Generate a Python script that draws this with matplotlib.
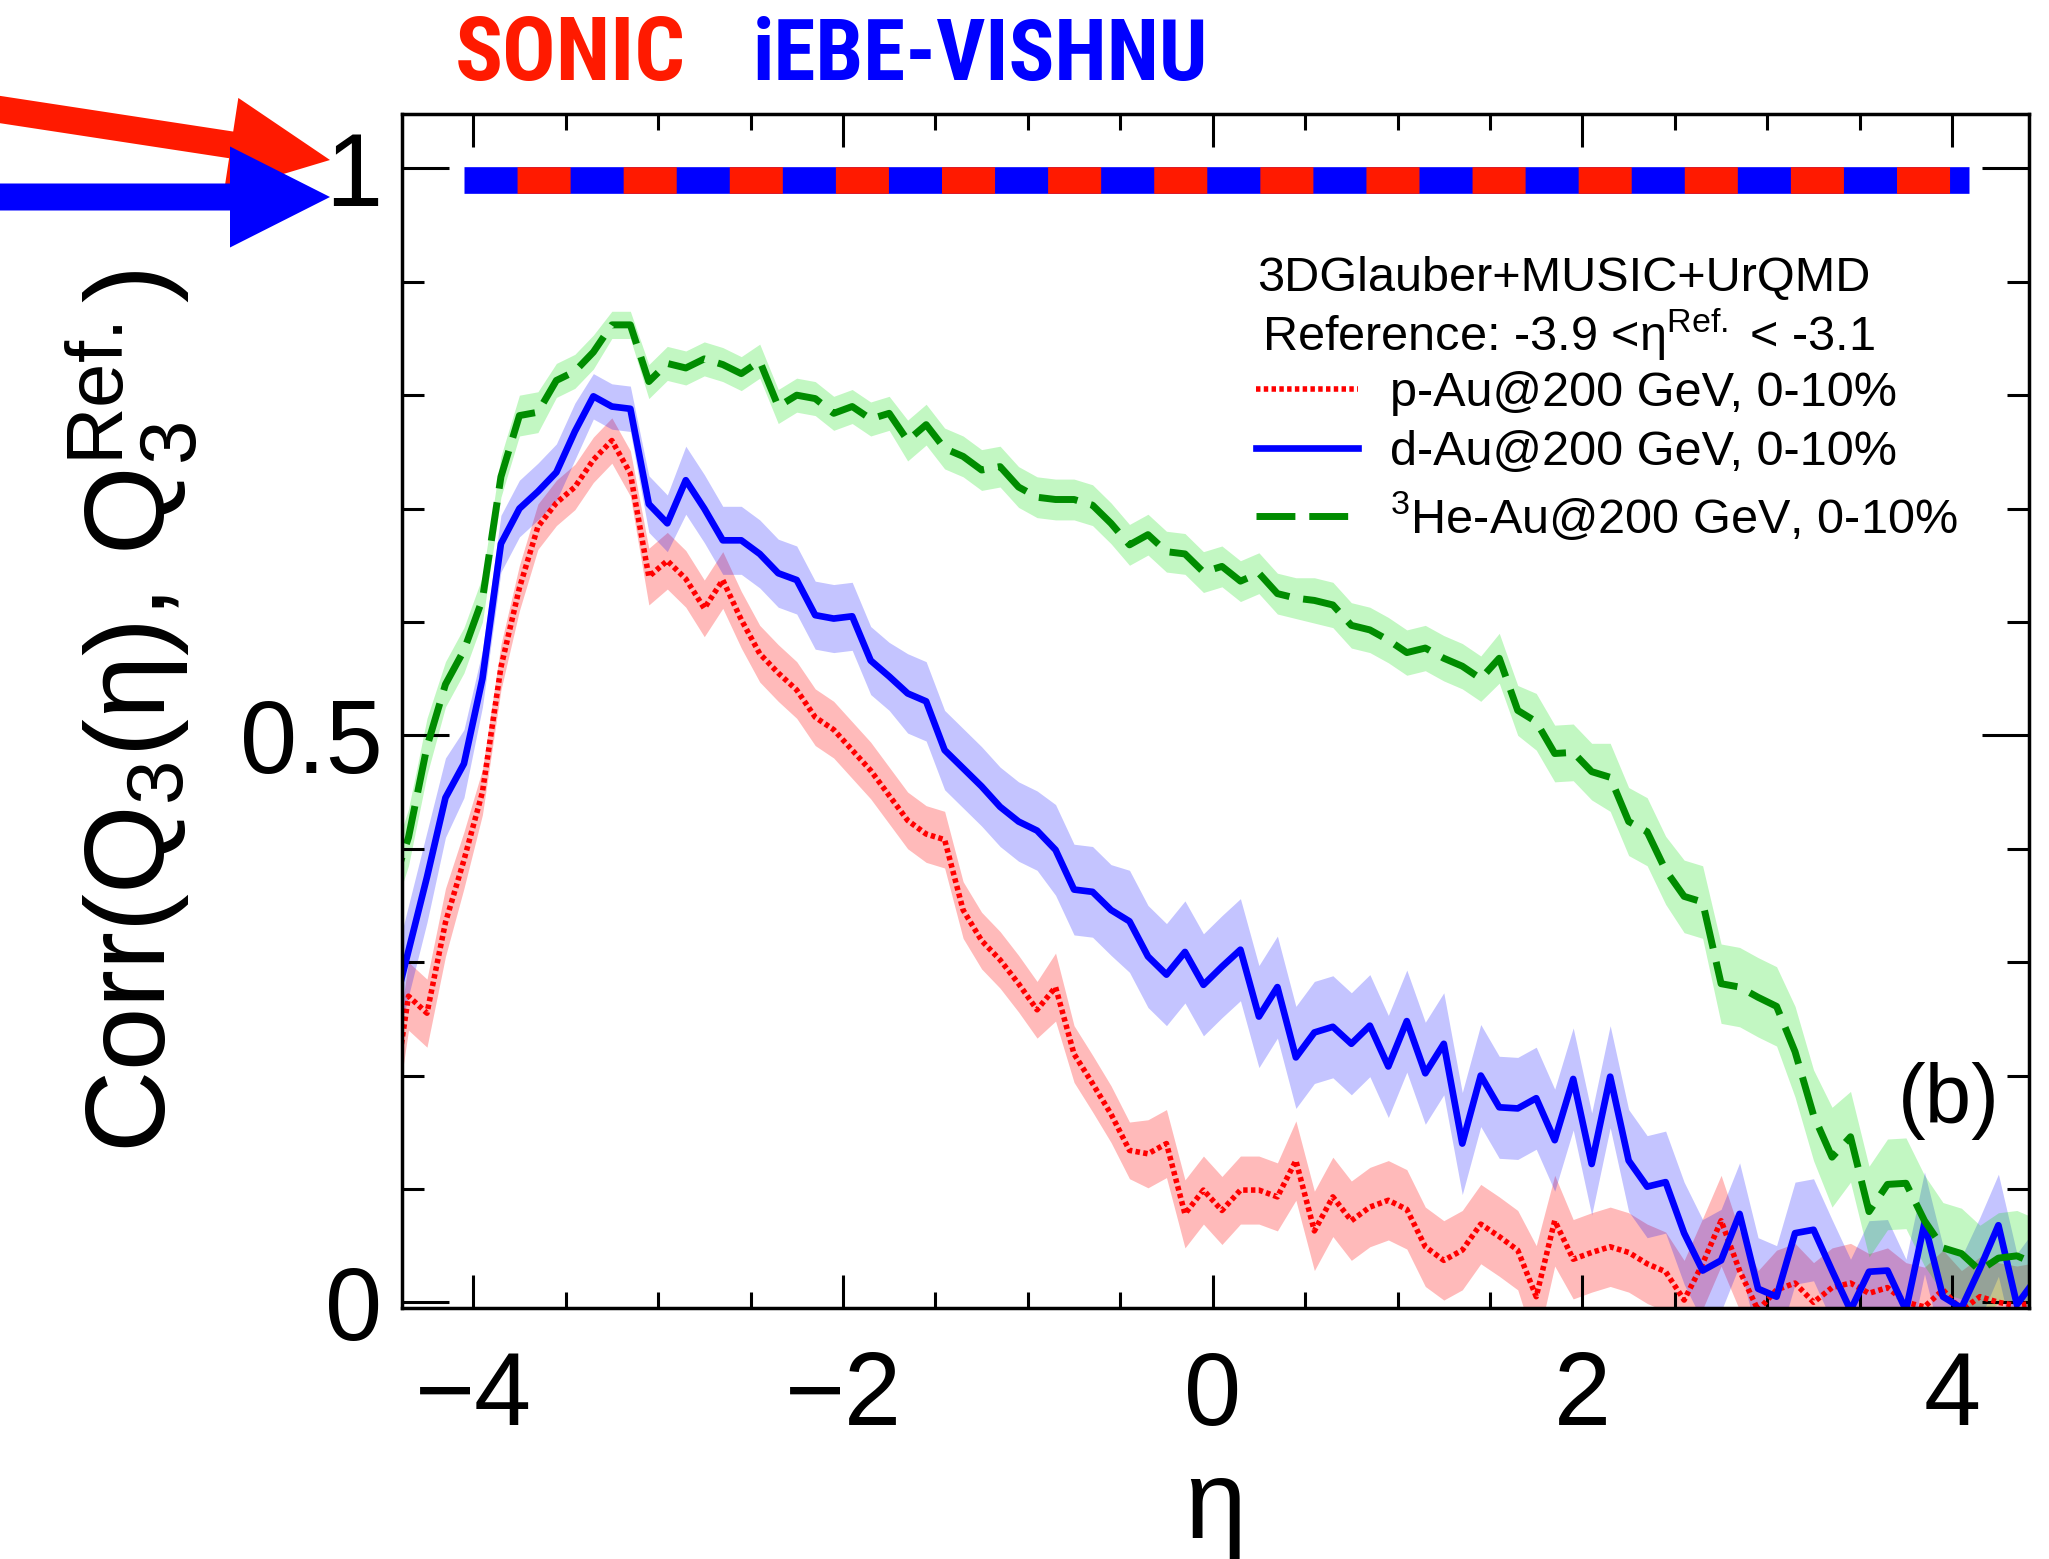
import matplotlib
matplotlib.use("Agg")
import matplotlib.pyplot as plt
import numpy as np
from matplotlib import font_manager
from matplotlib.patches import FancyArrow
from matplotlib.ticker import MultipleLocator

plt.rcParams['font.family'] = ['Liberation Sans', 'DejaVu Sans']
plt.rcParams['mathtext.fontset'] = 'custom'
plt.rcParams['mathtext.rm'] = 'Liberation Sans'
plt.rcParams['mathtext.it'] = 'Liberation Sans:italic'
plt.rcParams['mathtext.bf'] = 'Liberation Sans:bold'
plt.rcParams['lines.scale_dashes'] = False

# pick the narrowest bold face that is installed for the model names
names = {f.name for f in font_manager.fontManager.ttflist}
narrow = 'Liberation Sans'
for cand in ['Liberation Sans Narrow', 'Roboto Condensed', 'DejaVu Sans Condensed', 'Roboto']:
    if cand in names:
        narrow = cand
        break

# eta bin centres
eta = np.round(np.arange(-4.45, 4.46, 0.1), 2)

p_au = [0.16, 0.27, 0.255, 0.335, 0.39, 0.45, 0.560, 0.630, 0.684, 0.705,
        0.719, 0.743, 0.760, 0.731, 0.640, 0.654, 0.638, 0.612, 0.637, 0.602,
        0.572, 0.555, 0.540, 0.516, 0.505, 0.487, 0.469, 0.447, 0.425, 0.413,
        0.408, 0.346, 0.319, 0.302, 0.281, 0.258, 0.278, 0.219, 0.193, 0.166,
        0.134, 0.131, 0.140, 0.078, 0.099, 0.081, 0.099, 0.099, 0.093, 0.125,
        0.063, 0.093, 0.072, 0.084, 0.090, 0.082, 0.049, 0.037, 0.046, 0.069,
        0.058, 0.046, 0.005, 0.072, 0.038, 0.044, 0.049, 0.044, 0.034, 0.027,
        0.002, 0.034, 0.072, 0.028, -0.007, 0.011, 0.017, 0.0, 0.013, 0.017,
        0.008, 0.013, 0.0, -0.004, 0.011, -0.007, 0.005, 0.0, -0.003, 0.0]
p_err = [0.03, 0.03, 0.03, 0.03, 0.025, 0.02, 0.02, 0.02, 0.02, 0.02,
         0.02, 0.02, 0.02, 0.02, 0.025, 0.025, 0.025, 0.025, 0.025, 0.025,
         0.025, 0.025, 0.025, 0.025, 0.025, 0.025, 0.025, 0.025, 0.025, 0.025,
         0.025, 0.025, 0.025, 0.025, 0.025, 0.025, 0.03, 0.025, 0.025, 0.025,
         0.025, 0.03, 0.03, 0.03, 0.03, 0.03, 0.03, 0.03, 0.03, 0.035,
         0.035, 0.035, 0.035, 0.035, 0.035, 0.035, 0.035, 0.035, 0.035, 0.035,
         0.035, 0.035, 0.045, 0.04, 0.035, 0.035, 0.035, 0.035, 0.035, 0.035,
         0.035, 0.04, 0.04, 0.035, 0.035, 0.035, 0.035, 0.035, 0.035, 0.035,
         0.035, 0.035, 0.035, 0.035, 0.035, 0.035, 0.035, 0.035, 0.035, 0.035]

d_au = [0.245, 0.31, 0.375, 0.445, 0.475, 0.55, 0.669, 0.700, 0.715, 0.732,
        0.768, 0.799, 0.790, 0.788, 0.704, 0.687, 0.725, 0.700, 0.672, 0.672,
        0.660, 0.643, 0.637, 0.606, 0.603, 0.605, 0.566, 0.552, 0.537, 0.530,
        0.487, 0.471, 0.455, 0.437, 0.424, 0.416, 0.399, 0.364, 0.362, 0.346,
        0.336, 0.305, 0.289, 0.309, 0.280, 0.296, 0.311, 0.252, 0.278, 0.216,
        0.238, 0.243, 0.228, 0.244, 0.208, 0.248, 0.202, 0.228, 0.140, 0.200,
        0.172, 0.171, 0.180, 0.143, 0.197, 0.122, 0.199, 0.125, 0.102, 0.106,
        0.061, 0.028, 0.037, 0.078, 0.012, 0.005, 0.061, 0.064, 0.028, -0.007,
        0.027, 0.028, -0.007, 0.070, 0.005, -0.005, 0.030, 0.068, -0.002, 0.020]
d_err = [0.04, 0.04, 0.04, 0.035, 0.03, 0.025, 0.025, 0.025, 0.025, 0.025,
         0.025, 0.02, 0.02, 0.02, 0.025, 0.025, 0.03, 0.03, 0.03, 0.03,
         0.03, 0.03, 0.03, 0.03, 0.03, 0.03, 0.03, 0.03, 0.035, 0.035,
         0.035, 0.035, 0.035, 0.035, 0.035, 0.035, 0.04, 0.04, 0.04, 0.04,
         0.045, 0.045, 0.045, 0.045, 0.045, 0.045, 0.045, 0.045, 0.045, 0.045,
         0.045, 0.045, 0.045, 0.045, 0.045, 0.045, 0.045, 0.045, 0.045, 0.045,
         0.045, 0.045, 0.045, 0.045, 0.045, 0.045, 0.045, 0.045, 0.045, 0.045,
         0.045, 0.045, 0.045, 0.045, 0.045, 0.045, 0.045, 0.045, 0.045, 0.045,
         0.045, 0.045, 0.045, 0.045, 0.045, 0.045, 0.045, 0.045, 0.045, 0.045]

he_au = [0.36, 0.41, 0.49, 0.545, 0.575, 0.62, 0.728, 0.782, 0.785, 0.813,
         0.821, 0.838, 0.862, 0.862, 0.812, 0.828, 0.824, 0.832, 0.827, 0.819,
         0.830, 0.790, 0.800, 0.797, 0.784, 0.790, 0.779, 0.784, 0.760, 0.774,
         0.753, 0.746, 0.734, 0.737, 0.719, 0.710, 0.708, 0.708, 0.703, 0.687,
         0.668, 0.677, 0.662, 0.660, 0.644, 0.649, 0.636, 0.643, 0.625, 0.621,
         0.619, 0.615, 0.597, 0.593, 0.584, 0.573, 0.577, 0.568, 0.561, 0.550,
         0.568, 0.522, 0.512, 0.484, 0.485, 0.468, 0.463, 0.424, 0.415, 0.381,
         0.358, 0.353, 0.281, 0.278, 0.269, 0.261, 0.221, 0.165, 0.128, 0.146,
         0.080, 0.104, 0.105, 0.072, 0.048, 0.043, 0.028, 0.039, 0.041, 0.034]
he_err = [0.025, 0.025, 0.025, 0.02, 0.02, 0.02, 0.018, 0.018, 0.018, 0.015,
          0.015, 0.015, 0.012, 0.012, 0.015, 0.015, 0.015, 0.015, 0.015, 0.015,
          0.015, 0.015, 0.015, 0.015, 0.015, 0.015, 0.015, 0.015, 0.018, 0.018,
          0.018, 0.018, 0.018, 0.018, 0.018, 0.018, 0.018, 0.018, 0.018, 0.018,
          0.018, 0.018, 0.018, 0.018, 0.018, 0.018, 0.018, 0.018, 0.018, 0.018,
          0.02, 0.02, 0.02, 0.02, 0.02, 0.02, 0.02, 0.02, 0.02, 0.02,
          0.022, 0.022, 0.025, 0.025, 0.025, 0.025, 0.03, 0.03, 0.03, 0.03,
          0.032, 0.032, 0.035, 0.035, 0.035, 0.035, 0.04, 0.04, 0.044, 0.04,
          0.04, 0.04, 0.04, 0.04, 0.04, 0.04, 0.04, 0.04, 0.04, 0.04]

# SONIC / iEBE-VISHNU reference band at Corr ~ 1
ref_eta = [-4.05, 4.09]
sonic_ref = [0.99, 0.99]
vishnu_ref = [0.99, 0.99]

labels = ["p-Au@200 GeV, 0-10%", "d-Au@200 GeV, 0-10%", "$^3$He-Au@200 GeV, 0-10%"]
xtick_vals = [-4, -2, 0, 2, 4]
xtick_labels = ["\u22124", "\u22122", "0", "2", "4"]
ytick_vals = [0, 0.5, 1]
ytick_labels = ["0", "0.5", "1"]

red = "#ff1a00"
blue = "#0000ff"

fig = plt.figure(figsize=(20.49, 15.59), dpi=100)
ax = fig.add_axes([0.1962, 0.1610, 0.7940, 0.7659])

series = [
    (p_au, p_err, "#ff0000", "#ff0000", 0.27, dict(lw=4.0, linestyle=(0, (3.2, 2.4)))),
    (d_au, d_err, "#0000ff", "#0000ff", 0.23, dict(lw=4.8, linestyle="-")),
    (he_au, he_err, "#008c00", "#00e000", 0.24, dict(lw=5.0, linestyle=(0, (28, 10)))),
]
handles = []
for (vals, err, lc, bc, alpha, style), lab in zip(series, labels):
    v = np.array(vals)
    e = np.array(err)
    ax.fill_between(eta, v - e, v + e, color=bc, alpha=alpha, lw=0)
    ln, = ax.plot(eta, v, color=lc, label=lab, **style)
    handles.append(ln)

ax.plot(ref_eta, vishnu_ref, color=blue, lw=19.2, solid_capstyle="butt")
ax.plot(ref_eta, sonic_ref, color=red, lw=19.2, linestyle=(38.2, (38.2, 38.2)),
        dash_capstyle="butt")

ax.set_xlim(-4.385, 4.415)
ax.set_ylim(-0.005, 1.048)
ax.set_xticks(xtick_vals)
ax.set_xticklabels(xtick_labels)
ax.set_yticks(ytick_vals)
ax.set_yticklabels(ytick_labels)
ax.xaxis.set_minor_locator(MultipleLocator(0.5))
ax.yaxis.set_minor_locator(MultipleLocator(0.1))
ax.tick_params(which="both", direction="in", top=True, right=True, width=2.2,
               labelsize=74)
ax.tick_params(axis="x", which="major", length=24, pad=30)
ax.tick_params(axis="x", which="minor", length=11.5)
ax.tick_params(axis="y", which="major", length=34, pad=14)
ax.tick_params(axis="y", which="minor", length=16)
for s in ax.spines.values():
    s.set_linewidth(2.5)

ax.set_ylabel("Corr(Q$_3$(\u03b7), Q$_3^{\\mathrm{Ref.}}$)", fontsize=82)
ax.yaxis.set_label_coords(-0.124, 0.5)
ax.set_xlabel("\u03b7", fontsize=80)
ax.xaxis.set_label_coords(0.5, -0.125)

ax.text(0.5255, 0.862, "3DGlauber+MUSIC+UrQMD", transform=ax.transAxes,
        fontsize=35, va="center", ha="left")
ax.text(0.5286, 0.815, "Reference: -3.9 <\u03b7$^{\\mathrm{Ref.}}$ < -3.1",
        transform=ax.transAxes, fontsize=35, va="center", ha="left")
ax.legend(handles=handles, loc="upper left", bbox_to_anchor=(0.525, 0.785),
          frameon=False, fontsize=35, handlelength=2.1, handletextpad=0.66,
          labelspacing=0.3, borderpad=0.0, borderaxespad=0.0)
ax.text(0.982, 0.173, "(b)", transform=ax.transAxes, fontsize=60,
        ha="right", va="center")

# model names and arrows on top left
t_sonic = fig.text(455 / 2049, 1 - 80 / 1559, "SONIC", color=red, fontsize=60,
                   fontweight="bold", family=narrow, ha="left", va="baseline")
t_vishnu = fig.text(753 / 2049, 1 - 80 / 1559, "iEBE-VISHNU", color=blue, fontsize=60,
                    fontweight="bold", family=narrow, ha="left", va="baseline")
renderer = fig.canvas.get_renderer()
for t, target in [(t_sonic, 231), (t_vishnu, 456)]:
    w = t.get_window_extent(renderer).width
    t.set_fontsize(t.get_fontsize() * target / w)

H = 15.59
fig.patches.append(FancyArrow(-0.1, H - 1.08, 3.40, -0.52, width=0.27,
                              head_width=0.95, head_length=1.0,
                              length_includes_head=True, color=red, lw=0,
                              transform=fig.dpi_scale_trans, figure=fig))
fig.patches.append(FancyArrow(-0.1, H - 1.97, 3.40, 0.0, width=0.27,
                              head_width=1.01, head_length=1.0,
                              length_includes_head=True, color=blue, lw=0,
                              transform=fig.dpi_scale_trans, figure=fig))

fig.savefig("out.png", dpi=100)
